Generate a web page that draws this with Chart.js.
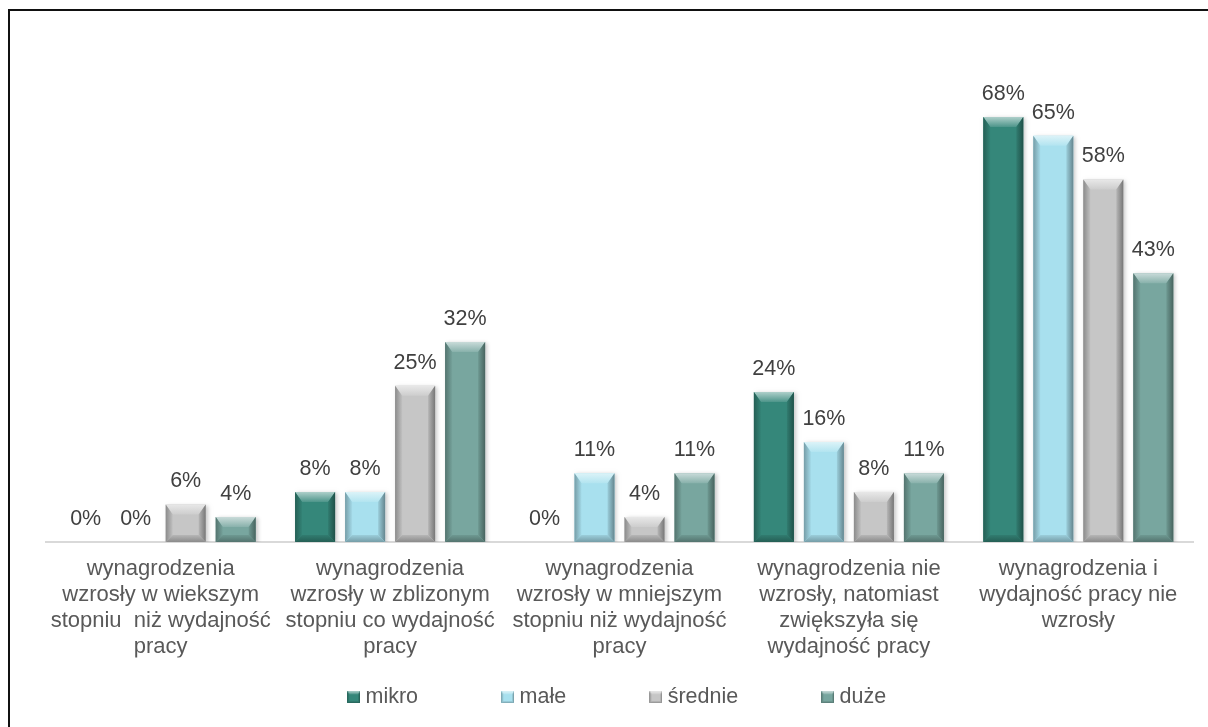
<!DOCTYPE html>
<html>
<head>
<meta charset="utf-8">
<script src="https://cdn.jsdelivr.net/npm/chart.js@4.4.1/dist/chart.umd.min.js"></script>
<style>
html, body { margin: 0; padding: 0; background: #fff; overflow: hidden; }
#wrap { position: relative; width: 1208px; height: 727px; }
#frame { position: absolute; left: 8px; top: 9px; width: 1300px; height: 800px;
  border-left: 2px solid #111; border-top: 2px solid #111; pointer-events: none; }
canvas { position: absolute; left: 0; top: 0; }
</style>
</head>
<body>
<div id="wrap">
  <canvas id="chart" width="1208" height="727"></canvas>
  <div id="frame"></div>
</div>
<script>
var categories = [
  ["wynagrodzenia", "wzrosły w wiekszym", "stopniu  niż wydajność", "pracy"],
  ["wynagrodzenia", "wzrosły w zblizonym", "stopniu co wydajność", "pracy"],
  ["wynagrodzenia", "wzrosły w mniejszym", "stopniu niż wydajność", "pracy"],
  ["wynagrodzenia nie", "wzrosły, natomiast", "zwiększyła się", "wydajność pracy"],
  ["wynagrodzenia i", "wydajność pracy nie", "wzrosły"]
];
var seriesNames = ["mikro", "małe", "średnie", "duże"];
var seriesColors = ["#35877a", "#a8e0ee", "#c6c6c6", "#78a69f"];

var mikro = [0, 8, 0, 24, 68];
var male = [0, 8, 11, 16, 65];
var srednie = [6, 25, 4, 8, 58];
var duze = [4, 32, 11, 11, 43];

var seriesValues = [mikro, male, srednie, duze];

var FONT = "'Liberation Sans', Arial, sans-serif";

// mix a hex colour with white (amt > 0) or black (amt < 0)
function shade(hex, amt) {
  var n = parseInt(hex.slice(1), 16);
  var rgb = [(n >> 16) & 255, (n >> 8) & 255, n & 255];
  var t = amt < 0 ? 0 : 255, a = Math.abs(amt);
  return "rgb(" + rgb.map(function (c) { return Math.round(c + (t - c) * a); }).join(",") + ")";
}

// bevelled faces over a flat bar: lit top, shaded sides and bottom
function drawBevel(c, col, l, r, t, b, top, side) {
  var h = b - t;
  var bv = Math.min(top, h / 2), sv = Math.min(side, h / 2);
  var g;
  g = c.createLinearGradient(0, t, 0, t + bv);
  g.addColorStop(0, shade(col, 0.6));
  g.addColorStop(1, shade(col, 0.12));
  c.fillStyle = g;
  c.beginPath();
  c.moveTo(l, t); c.lineTo(r, t); c.lineTo(r - sv, t + bv); c.lineTo(l + sv, t + bv); c.closePath();
  c.fill();

  g = c.createLinearGradient(l, 0, l + sv, 0);
  g.addColorStop(0, shade(col, -0.3));
  g.addColorStop(1, shade(col, -0.03));
  c.fillStyle = g;
  c.beginPath();
  c.moveTo(l, t); c.lineTo(l + sv, t + bv); c.lineTo(l + sv, b - sv); c.lineTo(l, b); c.closePath();
  c.fill();

  g = c.createLinearGradient(r, 0, r - sv, 0);
  g.addColorStop(0, shade(col, -0.4));
  g.addColorStop(1, shade(col, -0.08));
  c.fillStyle = g;
  c.beginPath();
  c.moveTo(r, t); c.lineTo(r - sv, t + bv); c.lineTo(r - sv, b - sv); c.lineTo(r, b); c.closePath();
  c.fill();

  g = c.createLinearGradient(0, b, 0, b - sv);
  g.addColorStop(0, shade(col, -0.3));
  g.addColorStop(1, shade(col, -0.08));
  c.fillStyle = g;
  c.beginPath();
  c.moveTo(l, b); c.lineTo(l + sv, b - sv); c.lineTo(r - sv, b - sv); c.lineTo(r, b); c.closePath();
  c.fill();
}

// small bevelled squares for the legend
var markers = seriesColors.map(function (col) {
  var cv = document.createElement("canvas");
  cv.width = 13; cv.height = 12;
  var c = cv.getContext("2d");
  c.fillStyle = col;
  c.fillRect(0, 0, 13, 12);
  drawBevel(c, col, 0, 13, 0, 12, 3, 2);
  return cv;
});

var bevelPlugin = {
  id: "bevel",
  beforeDatasetDraw: function (chart) {
    var c = chart.ctx;
    c.shadowColor = "rgba(0,0,0,0.22)";
    c.shadowBlur = 4;
    c.shadowOffsetX = 2;
    c.shadowOffsetY = 1;
  },
  afterDatasetDraw: function (chart, args) {
    var c = chart.ctx;
    c.shadowColor = "transparent";
    c.shadowBlur = 0; c.shadowOffsetX = 0; c.shadowOffsetY = 0;
    var col = seriesColors[args.index];
    args.meta.data.forEach(function (bar) {
      var p = bar.getProps(["x", "y", "base", "width"], true);
      if (p.base - p.y < 1) return;
      drawBevel(c, col, p.x - p.width / 2, p.x + p.width / 2, p.y, p.base, 10, 7);
    });
  }
};

var valueLabels = {
  id: "valueLabels",
  afterDatasetsDraw: function (chart) {
    var c = chart.ctx;
    c.save();
    c.font = "21.5px " + FONT;
    c.fillStyle = "#404040";
    c.textAlign = "center";
    c.textBaseline = "middle";
    chart.data.datasets.forEach(function (ds, i) {
      chart.getDatasetMeta(i).data.forEach(function (bar, j) {
        c.fillText(ds.data[j] + "%", bar.x, bar.y - 23);
      });
    });
    c.restore();
  }
};

// trailing gap between legend entries (kept out of the vertical padding)
var legendGap = "          ";

new Chart(document.getElementById("chart"), {
  type: "bar",
  data: {
    labels: categories,
    datasets: seriesNames.map(function (name, i) {
      return {
        label: name,
        data: seriesValues[i],
        backgroundColor: seriesColors[i],
        borderWidth: 0,
        categoryPercentage: 0.872,
        barPercentage: 0.8
      };
    })
  },
  options: {
    responsive: false,
    animation: false,
    devicePixelRatio: 1,
    layout: { padding: { left: 46, right: 15, top: 42, bottom: 9 } },
    plugins: {
      tooltip: { enabled: false },
      legend: {
        position: "bottom",
        labels: {
          usePointStyle: true,
          pointStyleWidth: 2,
          padding: 29,
          color: "#595959",
          font: { family: FONT, size: 21.5 },
          generateLabels: function () {
            return seriesNames.map(function (n, i) {
              return { text: i < seriesNames.length - 1 ? n + legendGap : n,
                fillStyle: seriesColors[i], strokeStyle: seriesColors[i],
                lineWidth: 0, pointStyle: markers[i], datasetIndex: i, hidden: false,
                fontColor: "#595959" };
            });
          }
        }
      }
    },
    scales: {
      x: {
        grid: { display: false, drawTicks: false },
        border: { display: true, color: "#d9d9d9", width: 2 },
        ticks: {
          autoSkip: false,
          maxRotation: 0,
          padding: 14,
          color: "#595959",
          font: { family: FONT, size: 22, lineHeight: 1.18 }
        },
        afterFit: function (scale) { scale.height = 115.5; }
      },
      y: { display: false, min: 0, max: 80 }
    }
  },
  plugins: [bevelPlugin, valueLabels]
});
</script>
</body>
</html>
